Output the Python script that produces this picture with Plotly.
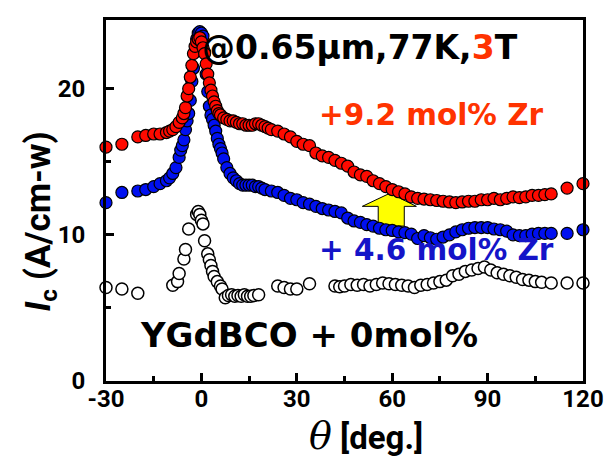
import plotly.graph_objects as go

# ---- data ----
red_x = [-30, -25, -20, -17.5, -15, -13, -11, -10, -9, -8, -7, -6, -5.5, -5, -4.5, -4, -3.5, -3,
         -2.5, -2, -1.5, -1, -0.5, 0, 0.5, 1, 1.5, 2, 2.5, 3, 3.5, 4, 4.5, 5, 5.5, 6, 7, 8, 9, 10,
         11, 12, 13, 14, 15, 16, 17, 18, 19, 20, 21, 22, 24, 26, 28, 30, 32, 34, 36, 38, 40, 42,
         44, 46, 48, 50, 52, 54, 56, 58, 60, 62, 64, 66, 68, 70, 72, 74, 76, 78, 80, 82, 84, 86,
         88, 90, 92, 94, 96, 98, 100, 102, 104, 106, 108, 110, 115, 120]
red_y = [16.0, 16.2, 16.7, 16.8, 16.9, 16.9, 17.0, 17.1, 17.2, 17.4, 17.7, 18.0, 18.3, 18.7, 19.5,
         20.0, 20.8, 21.6, 22.4, 22.9, 23.2, 23.4, 23.5, 23.2, 22.8, 22.4, 21.7, 21.0, 20.4, 19.9,
         19.5, 19.1, 18.8, 18.5, 18.3, 18.2, 18.0, 17.9, 17.8, 17.8, 17.7, 17.6, 17.6, 17.5, 17.5,
         17.5, 17.6, 17.6, 17.5, 17.4, 17.3, 17.2, 17.1, 16.9, 16.7, 16.4, 16.2, 16.1, 15.6, 15.4,
         15.3, 15.1, 14.9, 14.7, 14.3, 14.1, 14.0, 13.7, 13.5, 13.3, 13.1, 12.95, 12.8, 12.6, 12.5,
         12.45, 12.4, 12.35, 12.3, 12.25, 12.2, 12.25, 12.3, 12.3, 12.4, 12.4, 12.5, 12.4, 12.5,
         12.6, 12.55, 12.6, 12.7, 12.7, 12.75, 12.8, 13.2, 13.5]

blue_x = [-30, -25, -20, -17.5, -15, -13, -11, -10, -9, -8, -7, -6.5, -6, -5.5, -5, -4.5, -4, -3.5,
          -3, -2.5, -2, -1.5, -1, -0.5, 0, 0.5, 1, 1.5, 2, 2.5, 3, 3.5, 4, 4.5, 5, 5.5, 6, 6.5, 7,
          8, 9, 10, 11, 12, 13, 14, 15, 16, 17, 18, 19, 20, 22, 24, 26, 28, 30, 32, 34, 36, 38, 40,
          42, 44, 46, 48, 50, 52, 54, 56, 58, 60, 62, 64, 66, 68, 70, 72, 74, 76, 78, 80, 82, 84,
          86, 88, 90, 92, 94, 96, 98, 100, 102, 104, 106, 108, 110, 115, 120]
blue_y = [12.2, 12.9, 13.0, 13.1, 13.3, 13.5, 13.7, 13.9, 14.2, 14.6, 15.3, 15.8, 16.1, 16.5, 17.2,
          17.8, 18.3, 19.2, 20.5, 21.4, 22.5, 23.4, 23.8, 23.9, 23.8, 23.6, 22.5, 21.0, 19.8, 18.8,
          18.2, 17.9, 17.5, 17.1, 16.6, 16.2, 15.9, 15.6, 15.2, 14.6, 14.2, 13.9, 13.7, 13.5, 13.4,
          13.4, 13.4, 13.4, 13.3, 13.3, 13.2, 13.1, 13.0, 12.9, 12.7, 12.5, 12.4, 12.2, 12.1, 11.95,
          11.8, 11.7, 11.6, 11.5, 11.15, 10.95, 10.85, 10.7, 10.6, 10.45, 10.35, 10.3, 10.2, 10.15,
          10.05, 9.75, 9.95, 9.8, 9.7, 9.85, 10.0, 10.2, 10.35, 10.45, 10.5, 10.5, 10.5, 10.4,
          10.35, 10.25, 10.0, 9.95, 9.95, 10.05, 10.1, 10.1, 10.1, 10.1, 10.35]

open_x = [-30, -25, -20, -9, -7.5, -7, -5.5, -5, -4, -1.5, -1, -0.5, 0, 0.5, 1, 2, 2.5, 3, 3.5, 4,
          5, 6, 6.5, 7.5, 8.5, 9.5, 10.5, 11.5, 12.5, 13.5, 14.5, 15.5, 16.5, 18, 24, 26, 28, 30, 34,
          42, 43.5, 45, 47, 49, 51, 53, 55, 57, 59, 61, 63, 65, 67, 69, 71, 73, 75, 77, 79, 81, 83,
          85, 87, 89, 91, 93, 95, 97, 99, 101, 103, 105, 107, 110, 115, 120]
open_y = [6.4, 6.3, 6.0, 6.55, 6.8, 7.35, 8.35, 9.0, 10.4, 11.4, 11.6, 11.4, 11.0, 10.75, 9.6, 8.7,
          8.3, 7.9, 7.5, 7.15, 6.8, 6.5, 6.3, 5.7, 5.85, 5.9, 5.8, 5.85, 5.8, 5.9, 5.8, 5.8, 5.85,
          5.9, 6.5, 6.4, 6.3, 6.3, 6.65, 6.5, 6.45, 6.5, 6.6, 6.55, 6.6, 6.5, 6.6, 6.7, 6.65, 6.6,
          6.55, 6.5, 6.4, 6.55, 6.6, 6.7, 6.8, 6.9, 7.2, 7.3, 7.5, 7.6, 7.7, 7.8, 7.6, 7.4, 7.3,
          7.2, 7.1, 6.95, 6.9, 6.8, 6.75, 6.7, 6.7, 6.7]

x_ticks = [-30, 0, 30, 60, 90, 120]
y_ticks = [0, 10, 20]

fig = go.Figure()

mk = dict(size=12, line=dict(color="black", width=1.2))
fig.add_trace(go.Scatter(x=open_x, y=open_y, mode="markers", cliponaxis=False,
                         marker=dict(color="white", size=12, line=dict(color="black", width=1.5)),
                         showlegend=False))
fig.add_trace(go.Scatter(x=blue_x, y=blue_y, mode="markers", cliponaxis=False,
                         marker=dict(color="#0010F0", **mk), showlegend=False))
fig.add_trace(go.Scatter(x=red_x, y=red_y, mode="markers", cliponaxis=False,
                         marker=dict(color="#FF0A00", **mk), showlegend=False))

# yellow block arrow
fig.add_shape(type="path",
              path="M 55.6,10.6 L 55.6,11.95 L 50.6,11.95 L 59.3,12.85 L 67.6,11.95 L 63.8,11.95 L 63.8,10.6 Z",
              xref="x", yref="y", fillcolor="#FFFF00", line=dict(color="black", width=1), layer="below")

ann_font = "DejaVu Sans"
fig.add_annotation(x=-0.3, y=22.85, xref="x", yref="y", xanchor="left", yanchor="middle",
                   text="<b>@0.65μm,77K,<span style='color:#FF3300'>3</span>T</b>", showarrow=False,
                   font=dict(family=ann_font, size=33, color="black"))
fig.add_annotation(x=36.4, y=18.2, xref="x", yref="y", xanchor="left", yanchor="middle",
                   text="<b>+9.2 mol% Zr</b>", showarrow=False,
                   font=dict(family=ann_font, size=29.5, color="#FF3300"))
fig.add_annotation(x=36.3, y=8.95, xref="x", yref="y", xanchor="left", yanchor="middle",
                   text="<b>+ 4.6 mol% Zr</b>", showarrow=False,
                   font=dict(family=ann_font, size=29.5, color="#1414C8"))
fig.add_annotation(x=-20.0, y=3.15, xref="x", yref="y", xanchor="left", yanchor="middle",
                   text="<b>YGdBCO + 0mol%</b>", showarrow=False,
                   font=dict(family=ann_font, size=34, color="black"))

# axis titles
lab_font = "Roboto"
fig.add_annotation(x=0.545, y=-0.152, xref="paper", yref="paper", xanchor="center", yanchor="middle",
                   text="<span style=\"font-family:'DejaVu Serif';font-size:38px;font-weight:normal\"><i>θ</i></span> <b>[deg.]</b>",
                   showarrow=False, font=dict(family=lab_font, size=33, color="black"))
fig.add_annotation(x=-0.138, y=0.442, xref="paper", yref="paper", xanchor="center", yanchor="middle",
                   textangle=-90,
                   text="<b><i>I</i><sub>c</sub> (A/cm-w)</b>",
                   showarrow=False, font=dict(family=lab_font, size=35, color="black"))

tick_font = dict(family=lab_font, size=24, color="black", weight="bold")
fig.update_xaxes(range=[-30, 120], tickvals=x_ticks, ticktext=["<b>%d</b>" % v for v in x_ticks],
                 showgrid=False, zeroline=False, showline=True, linecolor="black", linewidth=3,
                 mirror=True, ticks="inside", ticklen=8, tickwidth=2.5, tickcolor="black",
                 ticklabelshift=0, ticklabelstandoff=-6, tickfont=tick_font,
                 minor=dict(ticks="inside", dtick=15, tick0=0, ticklen=5, tickwidth=2.5,
                            tickcolor="black"))
fig.update_yaxes(range=[0, 24.7], tickvals=y_ticks, ticktext=["<b>%d</b>" % v for v in y_ticks],
                 showgrid=False, zeroline=False, showline=True, linecolor="black", linewidth=3,
                 mirror=True, ticks="inside", ticklen=8, tickwidth=2.5, tickcolor="black",
                 ticklabelstandoff=13, tickfont=tick_font,
                 minor=dict(ticks="inside", dtick=5, tick0=0, ticklen=5, tickwidth=2.5,
                            tickcolor="black"))

fig.update_layout(width=612, height=460, margin=dict(l=98, r=37, t=9, b=87),
                  paper_bgcolor="white", plot_bgcolor="white")

fig.write_html("out.html")
